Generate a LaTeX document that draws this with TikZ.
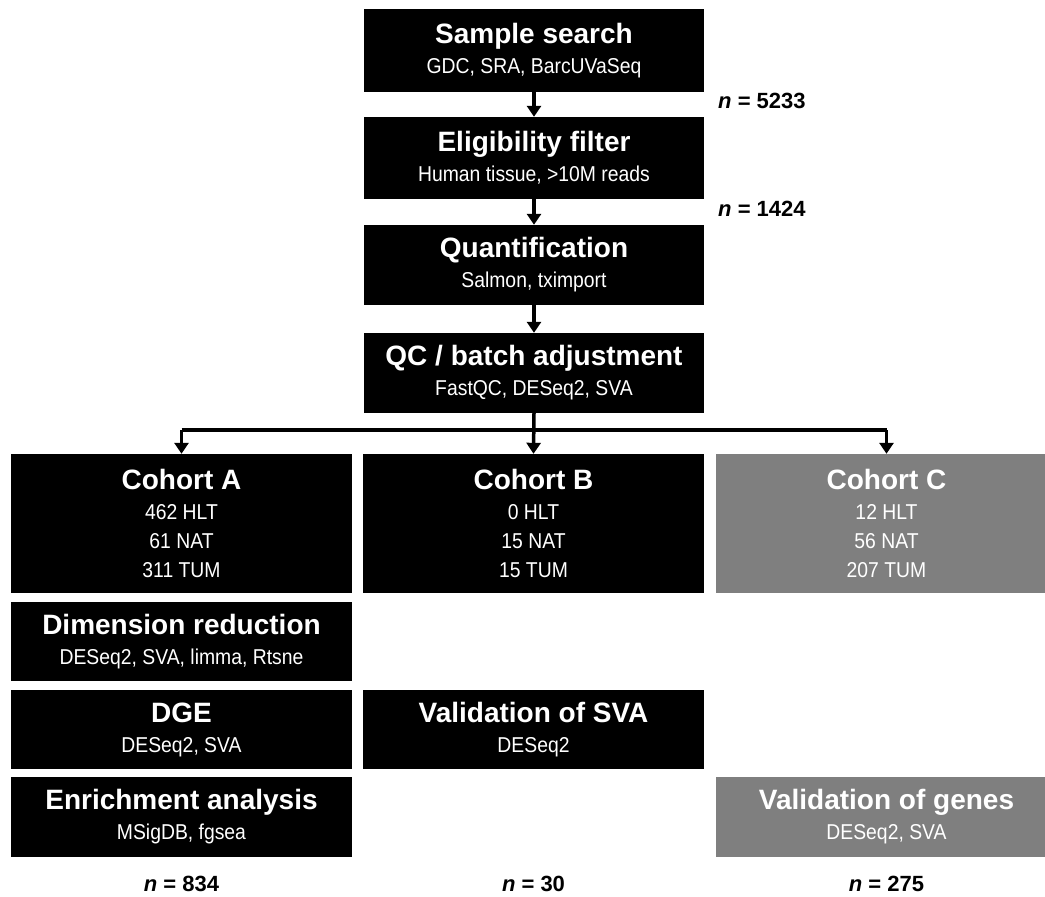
\documentclass[tikz,border=0pt]{standalone}
\usepackage{fontspec}
\setmainfont{Liberation Sans}
\newfontfamily\subfont[FakeStretch=0.9]{Liberation Sans}
\usetikzlibrary{arrows.meta}
\definecolor{boxgray}{RGB}{127,127,127}
\newcommand{\ttl}[1]{{\bfseries\fontsize{28}{30}\selectfont #1}}
\newcommand{\sbt}[1]{{\subfont\fontsize{21.5}{28}\selectfont #1}}
\tikzset{
  box/.style={fill=black, text=white, minimum width=341pt, inner sep=0pt,
    align=center, anchor=center, font=\fontsize{21.5}{30}\selectfont},
  graybox/.style={box, fill=boxgray},
  conn/.style={line width=3.5pt, draw=black},
  arr/.style={conn, -{Triangle[width=14pt,length=11pt]}},
  nlab/.style={font=\bfseries\fontsize{22}{24}\selectfont, text=black, inner sep=0pt}
}
\begin{document}
\begin{tikzpicture}[x=1pt,y=-1pt]
\useasboundingbox (0,0) rectangle (1045,897);
% main column
\node[box, minimum width=340pt, minimum height=83pt] (s1) at (534,50.5) {\ttl{Sample search}\\\sbt{GDC, SRA, BarcUVaSeq}};
\node[box, minimum width=340pt, minimum height=82pt] (s2) at (534,158) {\ttl{Eligibility filter}\\\sbt{Human tissue, >10M reads}};
\node[box, minimum width=340pt, minimum height=80pt] (s3) at (534,265) {\ttl{Quantification}\\\sbt{Salmon, tximport}};
\node[box, minimum width=340pt, minimum height=80pt] (s4) at (534,373) {\ttl{QC / batch adjustment}\\\sbt{FastQC, DESeq2, SVA}};
% cohorts
\node[box, minimum height=139pt] (cA) at (181.5,523.5) {\ttl{Cohort A}\\\sbt{462 HLT}\\[-1pt]\sbt{61 NAT}\\[-1pt]\sbt{311 TUM}};
\node[box, minimum height=139pt] (cB) at (533.5,523.5) {\ttl{Cohort B}\\\sbt{0 HLT}\\[-1pt]\sbt{15 NAT}\\[-1pt]\sbt{15 TUM}};
\node[graybox, minimum height=139pt] (cC) at (886.5,523.5) {\ttl{Cohort C}\\\sbt{12 HLT}\\[-1pt]\sbt{56 NAT}\\[-1pt]\sbt{207 TUM}};
% analyses
\node[box, minimum height=79pt] (dA) at (181.5,641.5) {\ttl{Dimension reduction}\\\sbt{DESeq2, SVA, limma, Rtsne}};
\node[box, minimum height=79pt] (gA) at (181.5,729.5) {\ttl{DGE}\\\sbt{DESeq2, SVA}};
\node[box, minimum height=80pt] (eA) at (181.5,817) {\ttl{Enrichment analysis}\\\sbt{MSigDB, fgsea}};
\node[box, minimum height=79pt] (vB) at (533.5,729.5) {\ttl{Validation of SVA}\\\sbt{DESeq2}};
\node[graybox, minimum height=80pt] (vC) at (886.5,817) {\ttl{Validation of genes}\\\sbt{DESeq2, SVA}};
% n labels
\node[nlab, anchor=west] (n1) at (718,101) {\itshape n\upshape{} = 5233};
\node[nlab, anchor=west] (n2) at (718,209) {\itshape n\upshape{} = 1424};
\node[nlab] (nA) at (181.5,884) {\itshape n\upshape{} = 834};
\node[nlab] (nB) at (533.5,884) {\itshape n\upshape{} = 30};
\node[nlab] (nC) at (886.5,884) {\itshape n\upshape{} = 275};
% connectors
\draw[arr] (s1) -- (s2);
\draw[arr] (s2) -- (s3);
\draw[arr] (s3) -- (s4);
\draw[arr] (s4.south) -- (cB.north);
\coordinate (jl) at (181.5,430);
\coordinate (jr) at (886.5,430);
\draw[conn] (jl) -- (jr);
\draw[arr] (jl) -- (cA.north);
\draw[arr] (jr) -- (cC.north);
\end{tikzpicture}
\end{document}
